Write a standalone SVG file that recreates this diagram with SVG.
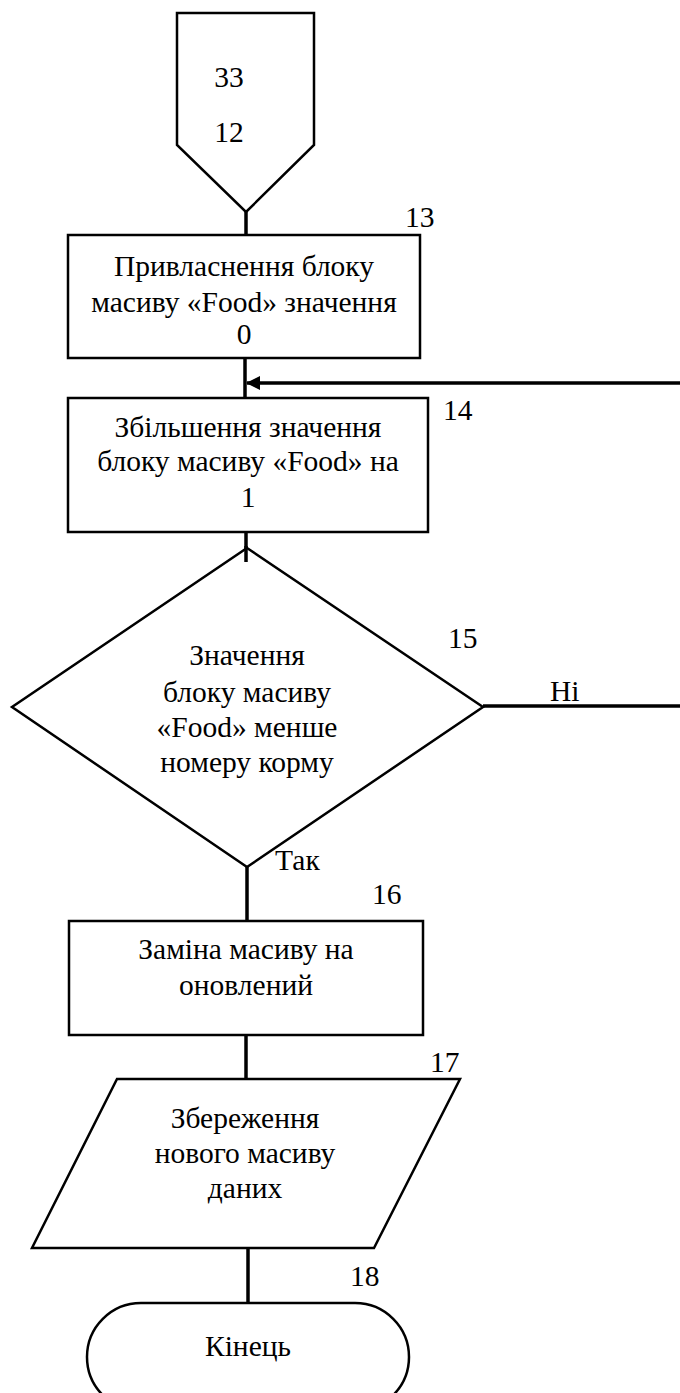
<svg xmlns="http://www.w3.org/2000/svg" width="680" height="1393" viewBox="0 0 680 1393">
<style>
text{font-family:"Liberation Serif","Times New Roman",Times,serif;font-size:29.5px;fill:#000}
.c{text-anchor:middle}
.s{fill:#fff;stroke:#000;stroke-width:2.5}
.ln{stroke:#000;stroke-width:3.5;fill:none}
</style>
<defs>
<marker id="ah" markerWidth="14" markerHeight="14" refX="13" refY="7" orient="auto" markerUnits="userSpaceOnUse">
<path d="M0,0 L14,7 L0,14 Z" fill="#000"/>
</marker>
</defs>
<g id="connectors">
<line class="ln" x1="246" y1="212" x2="246" y2="236"/>
<line class="ln" x1="245" y1="358" x2="245" y2="398"/>
<line class="ln" x1="680" y1="383" x2="247" y2="383" marker-end="url(#ah)"/>
<line class="ln" x1="246" y1="532" x2="246" y2="562"/>
<line class="ln" x1="483" y1="706" x2="680" y2="706"/>
<line class="ln" x1="247" y1="867" x2="247" y2="921"/>
<line class="ln" x1="246" y1="1035" x2="246" y2="1080"/>
<line class="ln" x1="248" y1="1248" x2="248" y2="1303"/>
</g>
<g id="n12">
<polygon class="s" points="177,13 314,13 314,145 246,212 177,145"/>
<text class="c" x="229" y="87">33</text>
<text class="c" x="229" y="142">12</text>
</g>
<g id="n13">
<rect class="s" x="68" y="235" width="352" height="123"/>
<text x="405" y="227">13</text>
<text class="c" x="244" y="276">Привласнення блоку</text>
<text class="c" x="244" y="312">масиву «Food» значення</text>
<text class="c" x="244" y="344">0</text>
</g>
<g id="n14">
<rect class="s" x="68" y="398" width="360" height="134"/>
<text x="443" y="420">14</text>
<text class="c" x="248" y="437">Збільшення значення</text>
<text class="c" x="248" y="471">блоку масиву «Food» на</text>
<text class="c" x="248" y="507">1</text>
</g>
<g id="n15">
<polygon class="s" points="247,548 483,707 247,867 12,707"/>
<line class="ln" x1="246" y1="546" x2="246" y2="562"/>
<text x="448" y="648">15</text>
<text class="c" x="247" y="665">Значення</text>
<text class="c" x="247" y="702">блоку масиву</text>
<text class="c" x="247" y="737">«Food» менше</text>
<text class="c" x="247" y="772">номеру корму</text>
</g>
<text x="550" y="701">Ні</text>
<text x="275" y="870">Так</text>
<g id="n16">
<rect class="s" x="69" y="921" width="354" height="114"/>
<text x="372" y="904">16</text>
<text class="c" x="246" y="959">Заміна масиву на</text>
<text class="c" x="246" y="995">оновлений</text>
</g>
<g id="n17">
<polygon class="s" points="117,1079 460,1079 374,1248 32,1248"/>
<text x="430" y="1072">17</text>
<text class="c" x="245" y="1128">Збереження</text>
<text class="c" x="245" y="1163">нового масиву</text>
<text class="c" x="245" y="1198">даних</text>
</g>
<g id="n18">
<rect class="s" x="87" y="1303" width="322" height="108" rx="54" ry="54"/>
<text x="350" y="1286">18</text>
<text class="c" x="248" y="1356">Кінець</text>
</g>
</svg>
